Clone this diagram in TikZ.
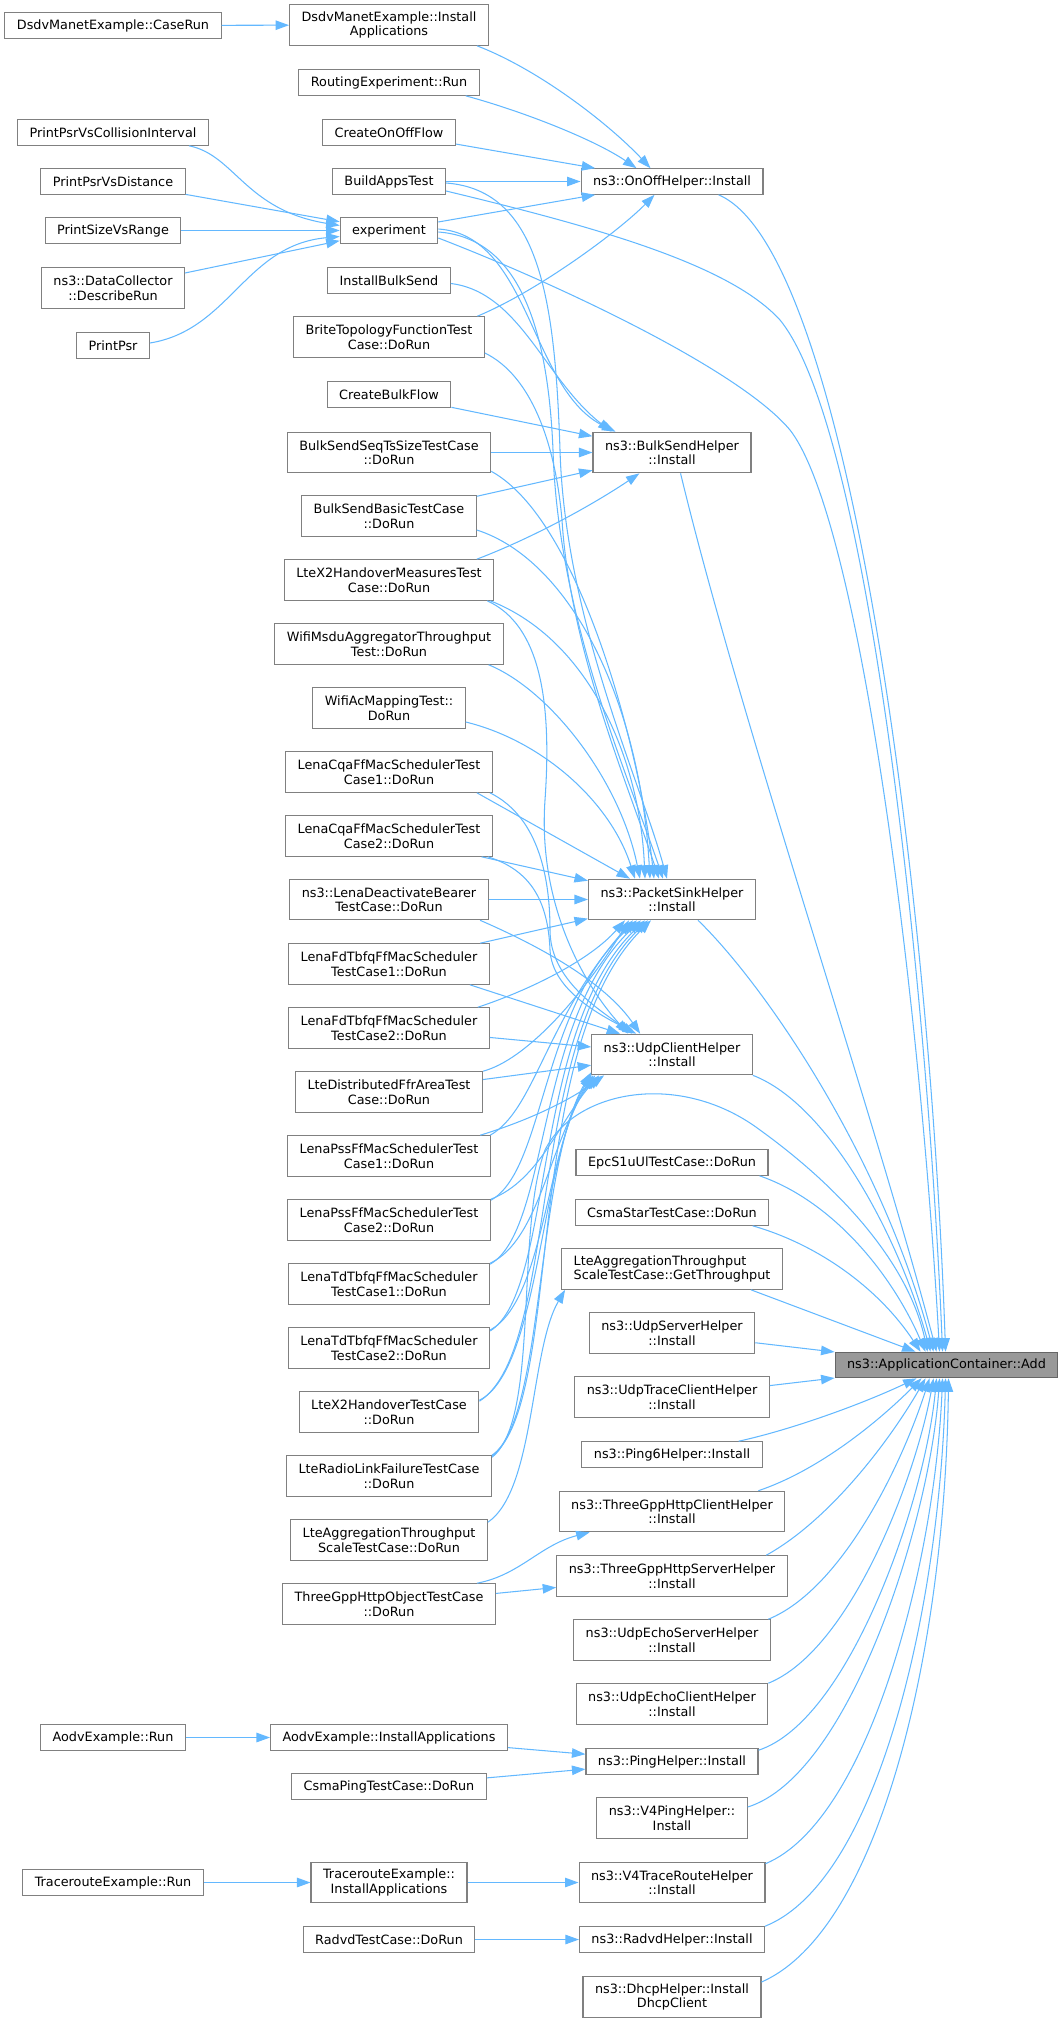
\documentclass[tikz,border=0pt]{standalone}
\usepackage{fontspec}
\setmainfont{DejaVu Sans}
\usetikzlibrary{arrows.meta,calc}
\definecolor{edgeblue}{HTML}{63B8FF}
\definecolor{nodeline}{HTML}{808080}
\definecolor{rootfill}{HTML}{999999}
\definecolor{rootline}{HTML}{666666}
\newcommand\dxfont{\fontsize{12.8}{14.5}\selectfont}
\tikzset{
  nd/.style={draw=nodeline, fill=white, line width=1.1pt, inner xsep=12pt, inner ysep=2pt,
    minimum height=25.5pt, font=\dxfont, align=center, text=black},
  two/.style={minimum height=40.5pt},
  rootnd/.style={fill=rootfill, draw=rootline},
  edge/.style={draw=edgeblue, line width=1.05pt, -{Triangle[length=13.5pt,width=9.5pt]}},
}
\begin{document}
\begin{tikzpicture}[x=1pt,y=-1pt]
\useasboundingbox (0,0) rectangle (1064,2023);
% column 1
\node[nd] (caseRun) at (113,25.5) {DsdvManetExample::CaseRun};
\node[nd] (psrColl) at (113,132.5) {PrintPsrVsCollisionInterval};
\node[nd] (psrDist) at (113,181.5) {PrintPsrVsDistance};
\node[nd] (sizeRange) at (113,230.5) {PrintSizeVsRange};
\node[nd,two] (dataColl) at (113,288) {ns3::DataCollector\\::DescribeRun};
\node[nd] (printPsr) at (113,345.5) {PrintPsr};
\node[nd] (aodvRun) at (113,1737.5) {AodvExample::Run};
\node[nd] (traceRun) at (113,1882.5) {TracerouteExample::Run};
% column 2
\node[nd,two] (dsdvInst) at (389,25) {DsdvManetExample::Install\\Applications};
\node[nd] (routing) at (389,82.5) {RoutingExperiment::Run};
\node[nd] (createOnOff) at (389,132.5) {CreateOnOffFlow};
\node[nd] (buildApps) at (389,181.5) {BuildAppsTest};
\node[nd] (experiment) at (389,230.5) {experiment};
\node[nd] (installBulk) at (389,280.5) {InstallBulkSend};
\node[nd,two] (brite) at (389,337) {BriteTopologyFunctionTest\\Case::DoRun};
\node[nd] (createBulk) at (389,394.5) {CreateBulkFlow};
\node[nd,two] (bulkSeq) at (389,452.5) {BulkSendSeqTsSizeTestCase\\::DoRun};
\node[nd,two] (bulkBasic) at (389,516) {BulkSendBasicTestCase\\::DoRun};
\node[nd,two] (x2Meas) at (389,580) {LteX2HandoverMeasuresTest\\Case::DoRun};
\node[nd,two] (wifiMsdu) at (389,644) {WifiMsduAggregatorThroughput\\Test::DoRun};
\node[nd,two] (wifiAc) at (389,708) {WifiAcMappingTest::\\DoRun};
\node[nd,two] (cqa1) at (389,772) {LenaCqaFfMacSchedulerTest\\Case1::DoRun};
\node[nd,two] (cqa2) at (389,836) {LenaCqaFfMacSchedulerTest\\Case2::DoRun};
\node[nd,two] (deact) at (389,899.5) {ns3::LenaDeactivateBearer\\TestCase::DoRun};
\node[nd,two] (fd1) at (389,964) {LenaFdTbfqFfMacScheduler\\TestCase1::DoRun};
\node[nd,two] (fd2) at (389,1028) {LenaFdTbfqFfMacScheduler\\TestCase2::DoRun};
\node[nd,two] (ffr) at (389,1092) {LteDistributedFfrAreaTest\\Case::DoRun};
\node[nd,two] (pss1) at (389,1156) {LenaPssFfMacSchedulerTest\\Case1::DoRun};
\node[nd,two] (pss2) at (389,1220) {LenaPssFfMacSchedulerTest\\Case2::DoRun};
\node[nd,two] (td1) at (389,1284) {LenaTdTbfqFfMacScheduler\\TestCase1::DoRun};
\node[nd,two] (td2) at (389,1348) {LenaTdTbfqFfMacScheduler\\TestCase2::DoRun};
\node[nd,two] (x2) at (389,1412) {LteX2HandoverTestCase\\::DoRun};
\node[nd,two] (rlf) at (389,1476) {LteRadioLinkFailureTestCase\\::DoRun};
\node[nd,two] (aggRun) at (389,1540) {LteAggregationThroughput\\ScaleTestCase::DoRun};
\node[nd,two] (http) at (389,1604) {ThreeGppHttpObjectTestCase\\::DoRun};
\node[nd] (aodvInst) at (389,1737.5) {AodvExample::InstallApplications};
\node[nd] (csmaPing) at (389,1786.5) {CsmaPingTestCase::DoRun};
\node[nd,two] (traceInst) at (389,1882.5) {TracerouteExample::\\InstallApplications};
\node[nd] (radvdTest) at (389,1939.5) {RadvdTestCase::DoRun};
% column 3
\node[nd] (onoff) at (672,181.5) {ns3::OnOffHelper::Install};
\node[nd,two] (bulk) at (672,452.5) {ns3::BulkSendHelper\\::Install};
\node[nd,two] (psink) at (672,899.5) {ns3::PacketSinkHelper\\::Install};
\node[nd,two] (udpc) at (672,1054.5) {ns3::UdpClientHelper\\::Install};
\node[nd] (epc) at (672,1162.5) {EpcS1uUlTestCase::DoRun};
\node[nd] (csmaStar) at (672,1212.5) {CsmaStarTestCase::DoRun};
\node[nd,two,align=left] (getTp) at (672,1269) {LteAggregationThroughput\\ScaleTestCase::GetThroughput};
\node[nd,two] (udps) at (672,1333) {ns3::UdpServerHelper\\::Install};
\node[nd,two] (udptrace) at (672,1397) {ns3::UdpTraceClientHelper\\::Install};
\node[nd] (ping6) at (672,1454.5) {ns3::Ping6Helper::Install};
\node[nd,two] (httpC) at (672,1511.5) {ns3::ThreeGppHttpClientHelper\\::Install};
\node[nd,two] (httpS) at (672,1576) {ns3::ThreeGppHttpServerHelper\\::Install};
\node[nd,two] (echoS) at (672,1640) {ns3::UdpEchoServerHelper\\::Install};
\node[nd,two] (echoC) at (672,1704) {ns3::UdpEchoClientHelper\\::Install};
\node[nd] (ping) at (672,1761.5) {ns3::PingHelper::Install};
\node[nd,two] (v4ping) at (672,1818) {ns3::V4PingHelper::\\Install};
\node[nd,two] (v4trace) at (672,1882.5) {ns3::V4TraceRouteHelper\\::Install};
\node[nd] (radvd) at (672,1939.5) {ns3::RadvdHelper::Install};
\node[nd,two] (dhcp) at (672,1997) {ns3::DhcpHelper::Install\\DhcpClient};
% root
\node[nd,rootnd] (add) at (946.5,1365) {ns3::ApplicationContainer::Add};

% ---- edges: column 1 -> column 2
\draw[edge] (caseRun) -- (dsdvInst);
\draw[edge] ($(psrColl.south east)+(-20,0)$) .. controls (235,155) and (245,210) .. ($(experiment.west)+(0,-5)$);
\draw[edge] (psrDist) -- (experiment);
\draw[edge] (sizeRange) -- (experiment);
\draw[edge] (dataColl) -- (experiment);
\draw[edge] ($(printPsr.east)+(0,-2.5)$) .. controls (230,330) and (245,245) .. ($(experiment.west)+(0,6)$);
\draw[edge] (aodvRun) -- (aodvInst);
\draw[edge] (traceRun) -- (traceInst);

% ---- into OnOffHelper
\draw[edge] ($(dsdvInst.south east)+(-12,0)$) .. controls (540,70) and (610,125) .. ($(onoff.north west)+(70,0)$);
\draw[edge] ($(routing.south east)+(-14,0)$) .. controls (525,112) and (595,140) .. ($(onoff.north west)+(56,0)$);
\draw[edge] (createOnOff) -- (onoff);
\draw[edge] (buildApps) -- (onoff);
\draw[edge] (experiment) -- (onoff);
\draw[edge] ($(brite.north east)+(-7.5,0)$) .. controls (540,290) and (620,230) .. ($(onoff.south west)+(74,0)$);

% ---- into BulkSendHelper
\draw[edge] ($(experiment.east)+(0,-1.5)$) .. controls (530,235) and (530,390) .. ($(bulk.north west)+(23,0)$);
\draw[edge] ($(installBulk.east)+(0,3)$) .. controls (520,292) and (545,380) .. ($(bulk.north west)+(19,0)$);
\draw[edge] (createBulk) -- (bulk);
\draw[edge] (bulkSeq) -- (bulk);
\draw[edge] (bulkBasic) -- (bulk);
\draw[edge] ($(x2Meas.north east)+(-17.5,0)$) .. controls (540,535) and (600,500) .. ($(bulk.south west)+(47,0)$);

% ---- into PacketSinkHelper (from above)
\draw[edge] ($(buildApps.east)+(0,1.5)$) .. controls (540,190) and (555,300) .. (560,450) .. controls (565,620) and (640,780) .. ($(psink.north west)+(79,0)$);
\draw[edge] ($(experiment.east)+(0,1.5)$) .. controls (520,238) and (548,330) .. (553,450) .. controls (558,620) and (630,780) .. ($(psink.north west)+(75,0)$);
\draw[edge] ($(brite.east)+(0,16)$) .. controls (530,375) and (555,440) .. (562,520) .. controls (570,650) and (630,790) .. ($(psink.north west)+(71,0)$);
\draw[edge] ($(bulkSeq.south east)+(0,-2)$) .. controls (580,520) and (640,750) .. ($(psink.north west)+(66,0)$);
\draw[edge] ($(bulkBasic.east)+(0,14)$) .. controls (570,560) and (640,700) .. ($(psink.north west)+(62,0)$);
\draw[edge] ($(x2Meas.south east)+(-4,0)$) .. controls (590,640) and (640,760) .. ($(psink.north west)+(57,0)$);
\draw[edge] ($(wifiMsdu.south east)+(-15,0)$) .. controls (550,690) and (620,780) .. ($(psink.north west)+(52,0)$);
\draw[edge] ($(wifiAc.east)+(0,14)$) .. controls (540,740) and (610,800) .. ($(psink.north west)+(47,0)$);
\draw[edge] ($(cqa1.south east)+(-16,0)$) -- ($(psink.north west)+(42,0)$);
\draw[edge] (cqa2) -- (psink);
\draw[edge] (deact) -- (psink);
\draw[edge] (fd1) -- (psink);
% ---- into PacketSinkHelper (from below)
\draw[edge] ($(fd2.north east)+(-12,0)$) .. controls (530,990) and (590,960) .. ($(psink.south west)+(37,0)$);
\draw[edge] (ffr.north east) .. controls (525,1060) and (580,1000) .. ($(psink.south west)+(41,0)$);
\draw[edge] ($(pss1.north east)+(-0.7,0)$) .. controls (535,1110) and (545,1020) .. ($(psink.south west)+(45,0)$);
\draw[edge] ($(pss2.north east)+(0,1)$) .. controls (545,1170) and (540,1010) .. ($(psink.south west)+(49,0)$);
\draw[edge] ($(td1.north east)+(0,1)$) .. controls (550,1230) and (535,1020) .. ($(psink.south west)+(53,0)$);
\draw[edge] ($(td2.east)+(0,-17)$) .. controls (555,1290) and (530,1030) .. ($(psink.south west)+(57,0)$);
\draw[edge] ($(x2.north east)+(0,10)$) .. controls (560,1350) and (525,1040) .. ($(psink.south west)+(60,0)$);
\draw[edge] ($(rlf.north east)+(0,1)$) .. controls (565,1400) and (520,1050) .. ($(psink.south west)+(63,0)$);

% ---- into UdpClientHelper
\draw[edge] ($(x2Meas.south east)+(-7,0)$) .. controls (540,625) and (552,700) .. (545,800) .. controls (538,900) and (580,980) .. ($(udpc.north west)+(37,0)$);
\draw[edge] ($(cqa1.south east)+(-3,0)$) .. controls (535,815) and (550,870) .. (550,930) .. controls (550,980) and (600,1010) .. ($(udpc.north west)+(41,0)$);
\draw[edge] ($(cqa2.south east)+(-5,0)$) .. controls (530,870) and (548,900) .. (550,950) .. controls (552,990) and (600,1015) .. ($(udpc.north west)+(45,0)$);
\draw[edge] ($(deact.south east)+(-8.6,0)$) .. controls (560,955) and (610,990) .. ($(udpc.north west)+(49,0)$);
\draw[edge] ($(fd1.south east)+(-20,0)$) -- ($(udpc.north west)+(29,0)$);
\draw[edge] (fd2) -- (udpc);
\draw[edge] (ffr) -- (udpc);
\draw[edge] ($(pss1.north east)+(-10.7,0)$) .. controls (530,1120) and (570,1100) .. ($(udpc.south west)+(13,0)$);
\draw[edge] (pss2.north east) .. controls (540,1180) and (560,1120) .. ($(udpc.south west)+(8,0)$);
\draw[edge] (td1.north east) .. controls (540,1240) and (550,1140) .. ($(udpc.south west)+(4,0)$);
\draw[edge] ($(td2.east)+(0,-18)$) .. controls (545,1300) and (545,1150) .. ($(udpc.south west)+(2,0)$);
\draw[edge] ($(x2.north east)+(0,9)$) .. controls (540,1370) and (540,1160) .. ($(udpc.south west)+(0.5,-1)$);
\draw[edge] (rlf.north east) .. controls (545,1420) and (535,1170) .. ($(udpc.south west)+(0,-3)$);

% ---- other column 2 -> column 3
\draw[edge] ($(aggRun.north east)+(0,3)$) .. controls (535,1490) and (530,1350) .. ($(getTp.south west)+(4,0)$);
\draw[edge] ($(http.north east)+(-19,0)$) .. controls (520,1575) and (540,1545) .. ($(httpC.south west)+(31,0)$);
\draw[edge] (http) -- (httpS);
\draw[edge] (aodvInst) -- (ping);
\draw[edge] (csmaPing) -- (ping);
\draw[edge] (traceInst) -- (v4trace);
\draw[edge] (radvdTest) -- (radvd);

% ---- long edges to Add
\draw[edge] ($(buildApps.east)+(0,9.5)$) .. controls (600,228) and (730,265) .. (780,320) .. controls (870,430) and (928,1000) .. ($(add.north west)+(108,0)$);
\draw[edge] ($(experiment.east)+(0,7.5)$) .. controls (560,285) and (740,370) .. (790,430) .. controls (860,520) and (920,1000) .. ($(add.north west)+(105,0)$);
\draw[edge] ($(rlf.north east)+(0,2)$) .. controls (540,1420) and (515,1230) .. (545,1150) .. controls (575,1090) and (680,1070) .. (760,1130) .. controls (850,1195) and (910,1270) .. ($(add.north west)+(93,0)$);

% ---- column 3 -> Add (from above)
\draw[edge] ($(onoff.south east)+(-45,0)$) .. controls (850,250) and (930,900) .. ($(add.north west)+(111,0)$);
\draw[edge] ($(bulk.south east)+(-71,0)$) .. controls (740,720) and (870,1100) .. ($(add.north west)+(102,0)$);
\draw[edge] ($(psink.south east)+(-58,0)$) .. controls (760,980) and (880,1150) .. ($(add.north west)+(99,0)$);
\draw[edge] (udpc.south east) .. controls (830,1105) and (900,1240) .. ($(add.north west)+(96,0)$);
\draw[edge] ($(epc.south east)+(-9,0)$) .. controls (830,1200) and (890,1270) .. ($(add.north west)+(91,0)$);
\draw[edge] ($(csmaStar.south east)+(-16.7,0)$) .. controls (820,1245) and (880,1290) .. ($(add.north west)+(86,0)$);
\draw[edge] ($(getTp.south east)+(-32,0)$) -- ($(add.north west)+(81,0)$);
\draw[edge] (udps) -- (add);
\draw[edge] (udptrace) -- (add);
% ---- column 3 -> Add (from below)
\draw[edge] ($(ping6.north east)+(-24,0)$) .. controls (790,1430) and (860,1405) .. ($(add.south west)+(82,0)$);
\draw[edge] ($(httpC.north east)+(-27,0)$) .. controls (820,1470) and (880,1420) .. ($(add.south west)+(87,0)$);
\draw[edge] ($(httpS.north east)+(-21.5,0)$) .. controls (830,1520) and (890,1440) .. ($(add.south west)+(91,0)$);
\draw[edge] ($(echoS.north east)+(-2.5,0)$) .. controls (840,1590) and (900,1470) .. ($(add.south west)+(95,0)$);
\draw[edge] (echoC.north east) .. controls (850,1650) and (915,1480) .. ($(add.south west)+(99,0)$);
\draw[edge] ($(ping.north east)+(0,2)$) .. controls (850,1720) and (925,1500) .. ($(add.south west)+(102,0)$);
\draw[edge] ($(v4ping.east)+(0,-11)$) .. controls (850,1775) and (930,1520) .. ($(add.south west)+(105,0)$);
\draw[edge] ($(v4trace.north east)+(0,2)$) .. controls (870,1820) and (935,1560) .. ($(add.south west)+(108,0)$);
\draw[edge] (radvd.north east) .. controls (880,1880) and (940,1600) .. ($(add.south west)+(111,0)$);
\draw[edge] ($(dhcp.east)+(0,-15)$) .. controls (880,1930) and (945,1650) .. ($(add.south west)+(114,0)$);
\end{tikzpicture}
\end{document}
